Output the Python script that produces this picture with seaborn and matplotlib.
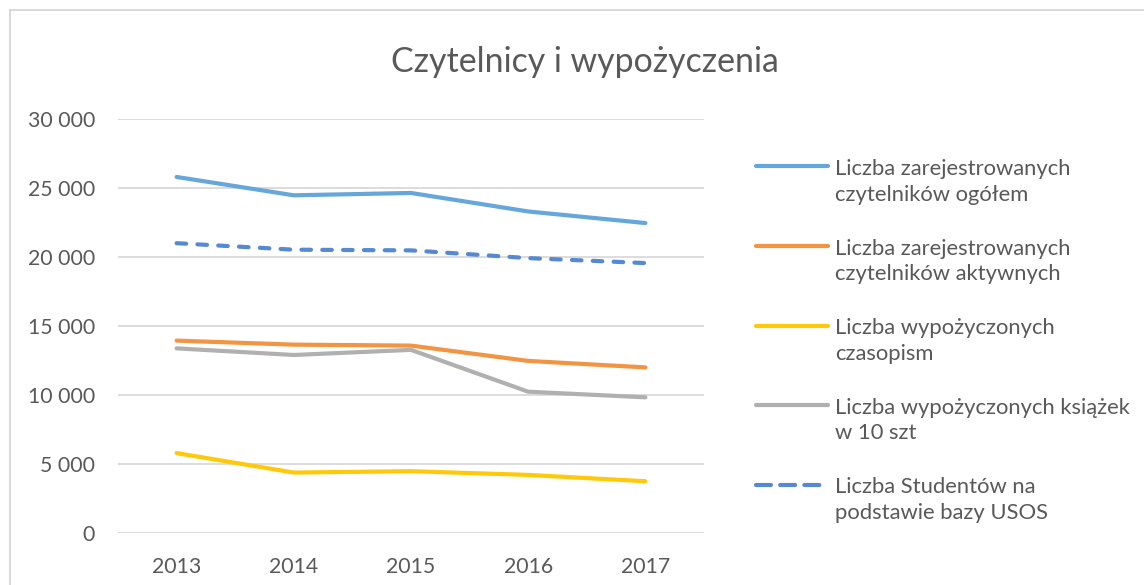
import numpy as np
import pandas as pd
import seaborn as sns
import matplotlib.pyplot as plt
from matplotlib.patches import Rectangle
from matplotlib.legend_handler import HandlerLine2D

years = ["2013", "2014", "2015", "2016", "2017"]
ogolem = [25800, 24470, 24640, 23300, 22460]
aktywnych = [13940, 13650, 13580, 12470, 12000]
czasopism = [5790, 4380, 4480, 4210, 3750]
ksiazek = [13380, 12900, 13270, 10240, 9830]
studenci = [21000, 20530, 20480, 19920, 19560]

labels = [
    "Liczba zarejestrowanych\nczytelników ogółem",
    "Liczba zarejestrowanych\nczytelników aktywnych",
    "Liczba wypożyczonych\nczasopism",
    "Liczba wypożyczonych książek\nw 10 szt",
    "Liczba Studentów na\npodstawie bazy USOS",
]
series = [ogolem, aktywnych, czasopism, ksiazek, studenci]
colors = ["#65A6DB", "#F29441", "#FFC90A", "#B0B0B0", "#558AD3"]


# legend handle next to the first line of a two-line label (like Excel)
class TopLine(HandlerLine2D):
    def create_artists(self, legend, orig_handle, xdescent, ydescent, width, height, fontsize, trans):
        arts = super().create_artists(legend, orig_handle, xdescent, ydescent, width, height, fontsize, trans)
        for a in arts:
            a.set_ydata(np.asarray(a.get_ydata()) + 0.72 * fontsize)
        return arts


sns.set_theme(style="white")
plt.rcParams['font.family'] = ['Lato', 'DejaVu Sans']

fig = plt.figure(figsize=(11.44, 5.85), dpi=100)
ax = fig.add_axes([118 / 1144, 1 - 533 / 585, (704 - 118) / 1144, (533 - 119) / 585])

for vals, lab, col in zip(series, labels, colors):
    df = pd.DataFrame({"rok": years, "wartosc": vals})
    sns.lineplot(data=df, x="rok", y="wartosc", ax=ax, color=col, linewidth=3,
                 label=lab, sort=False)
    line = ax.lines[-1]
    line.set_solid_capstyle("round")
    line.set_solid_joinstyle("round")
    if lab.startswith("Liczba Studentów"):
        line.set_dashes((2.3, 2.7))
        line.set_dash_capstyle("round")

ax.set_xlim(-0.5, 4.5)
ax.set_ylim(0, 30000)
ax.set_yticks(np.arange(0, 30001, 5000))
ax.set_yticklabels([f"{v:,}".replace(",", " ") for v in range(0, 30001, 5000)])
ax.grid(axis="y", color="#D9D9D9", linewidth=1.3)
ax.set_axisbelow(True)
for s in ax.spines.values():
    s.set_visible(False)
ax.set_xlabel("")
ax.set_ylabel("")
ax.tick_params(axis="both", colors="#595959", labelsize=15.3, length=0)
ax.tick_params(axis="y", pad=16.5)
ax.tick_params(axis="x", pad=17)

handles, labs = ax.get_legend_handles_labels()
ax.legend_.remove()
leg = fig.legend(handles, labs, loc="upper left", bbox_to_anchor=(756 / 1144, 1 - 159 / 585),
                 frameon=False, fontsize=15.8, handlelength=3.3, handletextpad=0.3,
                 labelspacing=1.55, borderpad=0, borderaxespad=0,
                 handler_map={h: TopLine() for h in handles})
for t in leg.get_texts():
    t.set_color("#595959")
    t.set_linespacing(1.35)
leg.get_lines()[4].set_dashes((3.6, 2.2))

fig.text(585 / 1144, 1 - 62 / 585, "Czytelnicy i wypożyczenia", ha="center", va="center",
         fontsize=24.4, color="#595959")

fig.patches.append(Rectangle((10 / 1144, -0.1), 1.2, 1 - 10 / 585 + 0.1, transform=fig.transFigure,
                             fill=False, edgecolor="#D9D9D9", linewidth=1.5))

fig.savefig("out.png", dpi=100)
